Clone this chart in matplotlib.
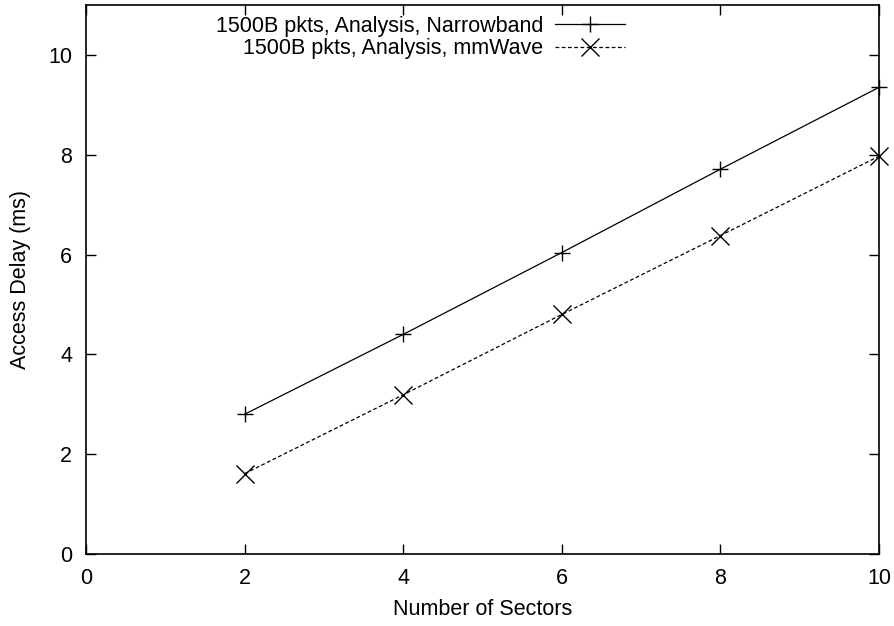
import matplotlib
matplotlib.use("Agg")
import matplotlib.pyplot as plt

plt.rcParams['font.family'] = ['Liberation Sans', 'DejaVu Sans']

sectors = [2, 4, 6, 8, 10]
narrowband = [2.8, 4.4, 6.04, 7.71, 9.35]
mmwave = [1.61, 3.19, 4.8, 6.38, 7.97]
xticks = [0, 2, 4, 6, 8, 10]
yticks = [0, 2, 4, 6, 8, 10]

FS = 15.5
fig = plt.figure(figsize=(8.94, 6.26), dpi=100)
ax = fig.add_axes([86/894, 72/626, (879-86)/894, (554-5)/626])

ax.plot(sectors, narrowband, color='black', lw=0.9, marker='+', ms=12, mew=1.0,
        label='1500B pkts, Analysis, Narrowband', clip_on=False)
ax.plot(sectors, mmwave, color='black', lw=0.9, ls=(0, (3, 2)), marker='x', ms=13, mew=1.0,
        label='1500B pkts, Analysis, mmWave', clip_on=False)

ax.set_xlim(0, 10)
ax.set_ylim(0, 11)
ax.set_xticks(xticks)
ax.set_yticks(yticks)
ax.tick_params(direction='in', top=True, right=True, labelsize=FS, length=7, width=1)
ax.tick_params(axis='x', pad=10)
ax.tick_params(axis='y', pad=10)
for s in ax.spines.values():
    s.set_linewidth(1.2)
ax.set_xlabel('Number of Sectors', fontsize=FS, labelpad=7)
ax.set_ylabel('Access Delay (ms)', fontsize=FS, labelpad=12)

leg = ax.legend(loc='upper right', bbox_to_anchor=(625/894, 1 - 16/626),
                bbox_transform=fig.transFigure, frameon=False, markerfirst=False,
                fontsize=FS, handlelength=70/(FS*100/72), handletextpad=0.55,
                labelspacing=0.05, borderpad=0, borderaxespad=0)
leg._legend_box.align = 'right'
for t in leg.get_texts():
    t.set_ha('right')

fig.savefig('out.png', dpi=100)
